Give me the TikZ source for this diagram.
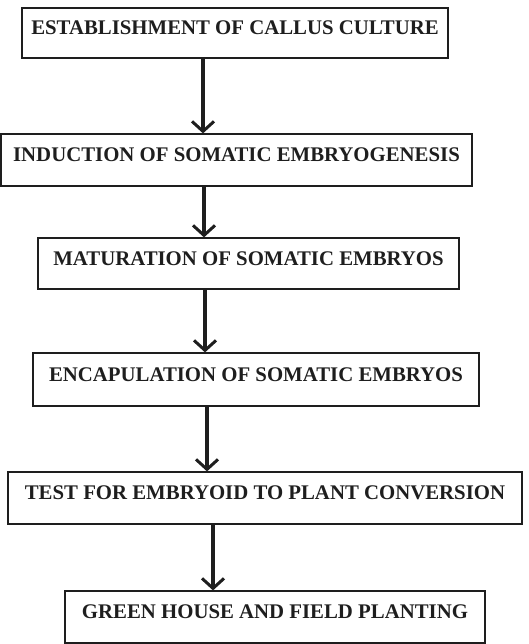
\documentclass[tikz,border=0pt]{standalone}
\usepackage{fontspec}
\setmainfont{Liberation Serif}
\usetikzlibrary{arrows.meta}
\definecolor{cink}{HTML}{1E1E1E}
\tikzset{
  every picture/.style={x=1pt, y=-1pt, line width=1.2pt},
  stage/.style={draw=cink, rectangle, align=center, inner xsep=4pt, inner ysep=3pt,
    text height=23pt, text depth=20pt, font=\fontsize{20.8}{24}\selectfont\bfseries, text=cink},
  arrow/.style={-{Straight Barb[length=10pt, width=22pt, line width=3pt]}, draw=cink, line width=3.4pt},
}

\begin{document}
\begin{tikzpicture}
  \useasboundingbox (0,0) rectangle (528,644);
  \node[stage, minimum width=426pt, minimum height=50pt] (est) at (235,33) {ESTABLISHMENT OF CALLUS CULTURE};
  \node[stage, minimum width=471pt, minimum height=52pt] (ind) at (236.5,160) {INDUCTION OF SOMATIC EMBRYOGENESIS};
  \node[stage, minimum width=421pt, minimum height=51pt] (mat) at (248.5,263.5) {MATURATION OF SOMATIC EMBRYOS};
  \node[stage, minimum width=446pt, minimum height=53pt] (enc) at (256,379.5) {ENCAPULATION OF SOMATIC EMBRYOS};
  \node[stage, minimum width=514pt, minimum height=52pt] (test) at (265,498) {TEST FOR EMBRYOID TO PLANT CONVERSION};
  \node[stage, minimum width=420pt, minimum height=52pt] (green) at (275,617) {GREEN HOUSE AND FIELD PLANTING};
  % arrows between stages
  \draw[arrow] (est.south -| 203,0) -- (ind.north -| 203,0);
  \draw[arrow] (ind.south -| 204,0) -- (mat.north -| 204,0);
  \draw[arrow] (mat.south -| 205,0) -- (enc.north -| 205,0);
  \draw[arrow] (enc.south -| 207,0) -- (test.north -| 207,0);
  \draw[arrow] (test.south -| 213,0) -- (green.north -| 213,0);
\end{tikzpicture}
\end{document}
